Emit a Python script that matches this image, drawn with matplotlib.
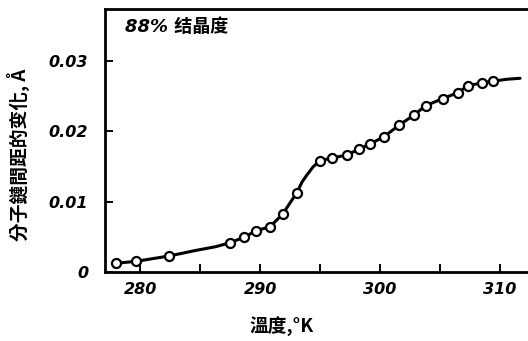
import matplotlib
matplotlib.use('Agg')
import matplotlib.pyplot as plt

plt.rcParams['font.family'] = ['DejaVu Sans', 'Noto Sans CJK SC']

# measured points (temperature K, change in chain spacing A)
temp_pts = [277.98, 279.67, 282.42, 287.5, 288.67, 289.67, 290.83, 291.89, 293.06,
            295.0, 296.03, 297.22, 298.22, 299.17, 300.33, 301.58, 302.83, 303.81,
            305.22, 306.47, 307.31, 308.53, 309.44]
delta_pts = [0.00124, 0.00152, 0.00228, 0.00417, 0.00494, 0.00587, 0.00644, 0.00825, 0.01128,
             0.01583, 0.01622, 0.01664, 0.01745, 0.01821, 0.01925, 0.02087, 0.02233, 0.02366,
             0.02465, 0.02550, 0.02646, 0.02693, 0.02713]

# smooth curve
temp_curve = [277.98, 279.67, 282.42, 284.7, 286.3, 287.5, 288.67, 289.67, 290.83, 291.89, 293.06,
              293.5, 293.9, 294.44, 295.0, 296.03, 297.22, 298.22, 299.17, 300.33, 301.58, 302.83,
              303.81, 305.22, 306.47, 307.31, 308.53, 309.44, 310.5, 311.67]
delta_curve = [0.00124, 0.00152, 0.00228, 0.00309, 0.0036, 0.00417, 0.00494, 0.00587, 0.00644, 0.00825,
               0.01128, 0.0128, 0.0138, 0.0150, 0.01583, 0.01622, 0.01664, 0.01745, 0.01821, 0.01925,
               0.02087, 0.02233, 0.02366, 0.02465, 0.02550, 0.02646, 0.02693, 0.02713, 0.0274,
               0.02755]

x_major = [280, 290, 300, 310]
x_minor = [285, 295, 305]
y_ticks = [0, 0.01, 0.02, 0.03]
y_labels = ['0', '0.01', '0.02', '0.03']

fig = plt.figure(figsize=(5.28, 3.41), dpi=100)
ax = fig.add_axes([0.199, 0.2023, 0.801, 0.7713])

ax.plot(temp_curve, delta_curve, color='black', linewidth=2.2, solid_capstyle='round',
        solid_joinstyle='round')
ax.plot(temp_pts, delta_pts, linestyle='none', marker='o', markersize=6.5,
        markerfacecolor='white', markeredgecolor='black', markeredgewidth=1.6)

ax.set_xlim(277.08, 312.33)
ax.set_ylim(0, 0.0374)

ax.set_xticks(x_major)
ax.set_xticks(x_minor, minor=True)
ax.set_yticks(y_ticks)
ax.set_yticklabels(y_labels)
for lab in ax.get_xticklabels() + ax.get_yticklabels():
    lab.set_fontweight('bold')
    lab.set_fontstyle('italic')
    lab.set_fontsize(11.5)

ax.tick_params(axis='both', which='both', direction='in', length=6, width=1.4, color='black')
ax.tick_params(axis='x', pad=7)
ax.tick_params(axis='y', pad=12)

ax.spines['right'].set_visible(False)
for s in ['left', 'bottom', 'top']:
    ax.spines[s].set_linewidth(2)

ax.text(0.047, 0.93, '88% 结晶度', transform=ax.transAxes, fontsize=13,
        fontweight='bold', fontstyle='italic', va='center', ha='left')

fig.text(282 / 528, 1 - 327 / 341, '溫度,°K', fontsize=13.5, fontweight='bold',
         ha='center', va='center', family=['Noto Sans CJK TC', 'DejaVu Sans'])
fig.text(18 / 528, 1 - 155 / 341, '分子鏈間距的变化, Å', fontsize=13.5, fontweight='bold',
         rotation=90, ha='center', va='center', family=['Noto Sans CJK TC', 'DejaVu Sans'])

fig.savefig('out.png', dpi=100)
